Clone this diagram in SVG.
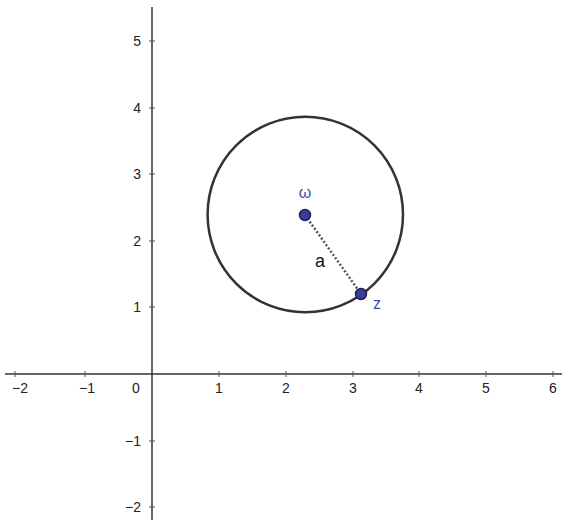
<svg xmlns="http://www.w3.org/2000/svg" width="562" height="520" viewBox="0 0 562 520">
<style>
.ax{stroke:#333;stroke-width:1.5;fill:none}
.tk{stroke:#555;stroke-width:1}
.lb{font-family:"Liberation Sans",Arial,sans-serif;font-size:14px;fill:#222}
.pt{fill:#3b3f94;stroke:#1e2060;stroke-width:1.5}
.pl{font-family:"Liberation Sans",Arial,sans-serif;font-size:16px;fill:#3a4fb0}
</style>
<rect width="562" height="520" fill="#fff"/>
<g id="axes">
<line class="ax" x1="5" y1="374" x2="562" y2="374"/>
<line class="ax" x1="152" y1="7" x2="152" y2="520"/>
<g class="tk">
<line x1="15" y1="371" x2="15" y2="377"/>
<line x1="85" y1="371" x2="85" y2="377"/>
<line x1="219" y1="371" x2="219" y2="377"/>
<line x1="286" y1="371" x2="286" y2="377"/>
<line x1="353" y1="371" x2="353" y2="377"/>
<line x1="419" y1="371" x2="419" y2="377"/>
<line x1="486" y1="371" x2="486" y2="377"/>
<line x1="553" y1="371" x2="553" y2="377"/>
<line x1="149" y1="41" x2="155" y2="41"/>
<line x1="149" y1="108" x2="155" y2="108"/>
<line x1="149" y1="174" x2="155" y2="174"/>
<line x1="149" y1="241" x2="155" y2="241"/>
<line x1="149" y1="307" x2="155" y2="307"/>
<line x1="149" y1="441" x2="155" y2="441"/>
<line x1="149" y1="507" x2="155" y2="507"/>
</g>
<g class="lb" text-anchor="middle">
<text x="20" y="393">−2</text>
<text x="87" y="393">−1</text>
<text x="136" y="393">0</text>
<text x="219" y="393">1</text>
<text x="286" y="393">2</text>
<text x="353" y="393">3</text>
<text x="419" y="393">4</text>
<text x="486" y="393">5</text>
<text x="553" y="393">6</text>
</g>
<g class="lb" text-anchor="end">
<text x="141" y="46">5</text>
<text x="141" y="113">4</text>
<text x="141" y="179">3</text>
<text x="141" y="246">2</text>
<text x="141" y="312">1</text>
<text x="141" y="446">−1</text>
<text x="141" y="512">−2</text>
</g>
</g>
<g id="circle">
<circle cx="305.3" cy="214.5" r="97.7" fill="none" stroke="#333" stroke-width="2.5"/>
</g>
<g id="connectors">
<line x1="305" y1="215" x2="361" y2="294" stroke="#555" stroke-width="2.5" stroke-dasharray="2 2"/>
<text class="lb" x="320" y="267" text-anchor="middle" style="font-size:18px;fill:#111">a</text>
</g>
<g id="omega">
<circle class="pt" cx="305" cy="215" r="5.5"/>
<text class="pl" x="305" y="198" text-anchor="middle">ω</text>
</g>
<g id="z">
<circle class="pt" cx="361" cy="294" r="5.5"/>
<text class="pl" x="377" y="309" text-anchor="middle">z</text>
</g>
</svg>
